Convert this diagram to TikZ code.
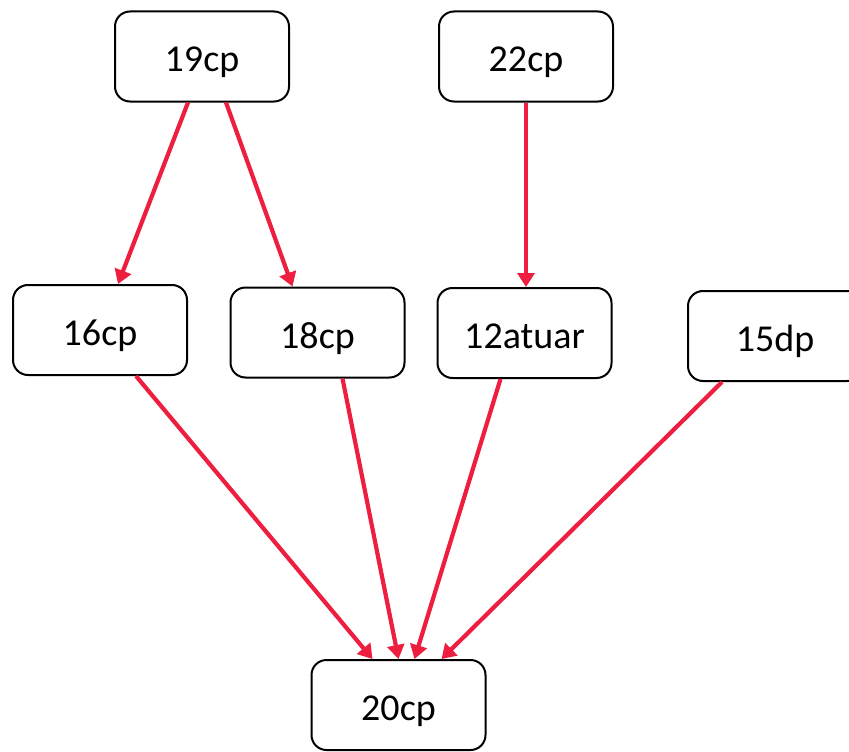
\documentclass[tikz,border=0pt]{standalone}
\usepackage{fontspec}
\setmainfont{Carlito}
\usetikzlibrary{arrows.meta}
\definecolor{arrred}{RGB}{238,30,64}
\tikzset{
  box/.style={draw=black, line width=2pt, rounded corners=15pt, minimum width=174pt, minimum height=90pt, inner sep=0pt, font=\fontsize{38}{40}\selectfont, fill=white, text depth=0pt, text height=31pt},
  link/.style={draw=arrred, line width=4.2pt, -{Triangle[length=14pt, width=17pt]}}
}
\begin{document}
\begin{tikzpicture}[x=1pt, y=-1pt]
\useasboundingbox (0,0) rectangle (849,752);
\clip (0,0) rectangle (849,752);
\node[box] (n19) at (202,56.5) {19cp};
\node[box] (n22) at (526,56.5) {22cp};
\node[box] (n16) at (100,330) {16cp};
\node[box] (n18) at (317.5,332.5) {18cp};
\node[box] (n12) at (524.5,333) {12atuar};
\node[box] (n15) at (775,336) {15dp};
\node[box] (n20) at (398.5,705) {20cp};
\draw[link] ([xshift=-14pt]n19.south) -- ([xshift=18pt]n16.north);
\draw[link] ([xshift=24pt]n19.south) -- ([xshift=-25pt]n18.north);
\draw[link] (n22.south) -- ([xshift=1.5pt]n12.north);
\draw[link] ([xshift=36pt]n16.south) -- ([xshift=-26pt]n20.north);
\draw[link] ([xshift=25pt]n18.south) -- ([xshift=0pt]n20.north);
\draw[link] ([xshift=-24pt]n12.south) -- ([xshift=16pt]n20.north);
\draw[link] ([xshift=-53pt]n15.south) -- ([xshift=43pt]n20.north);
\end{tikzpicture}
\end{document}
